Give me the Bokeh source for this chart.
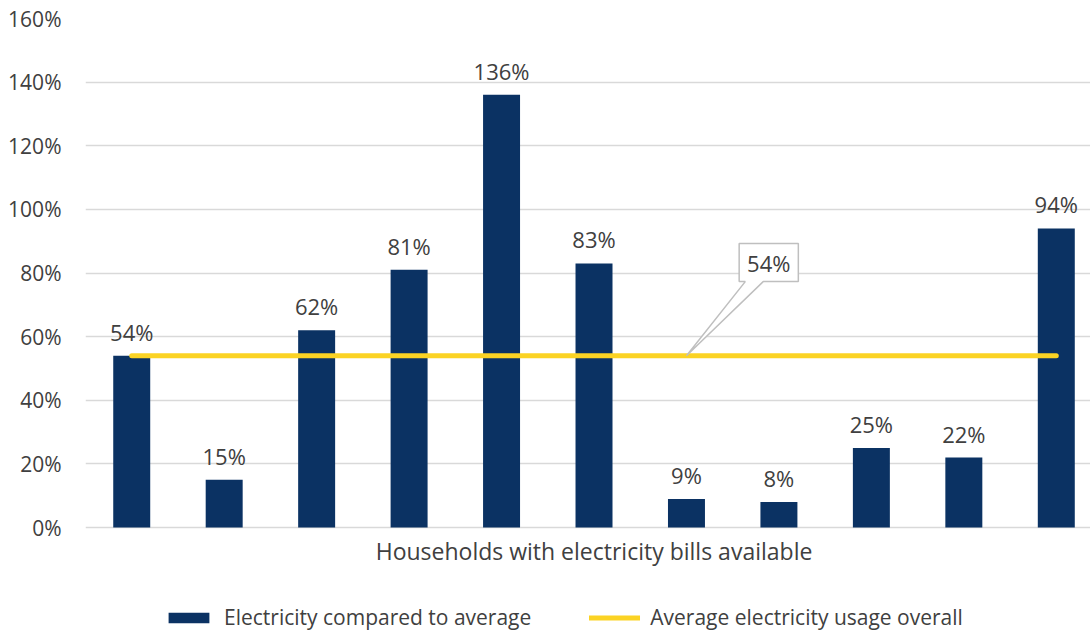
from bokeh.plotting import figure
from bokeh.models import (Range1d, ColumnDataSource, LabelSet, Label, Legend, LegendItem,
                          NumeralTickFormatter, FixedTicker)
from bokeh.core.properties import value
from bokeh.embed import file_html
from bokeh.resources import INLINE

# --- data -------------------------------------------------------------
households = list(range(11))
electricity_vs_average = [0.54, 0.15, 0.62, 0.81, 1.36, 0.83, 0.09, 0.08, 0.25, 0.22, 0.94]
average_usage_overall = 0.54
y_ticks = [0.0, 0.2, 0.4, 0.6, 0.8, 1.0, 1.2, 1.4, 1.6]
x_title = "Households with electricity bills available"
series_names = ["Electricity compared to average", "Average electricity usage overall"]

# --- style ------------------------------------------------------------
FONT = "Open Sans"
TEXT = "#404040"
NAVY = "#0b3263"
YELLOW = "#fbd324"
GRID = "#d9d9d9"
FS = "21px"

# the frame runs down to the bottom edge so the axis title and legend
# can live underneath the 0% line
p = figure(width=1090, height=632, output_backend="svg", toolbar_location=None,
           x_range=Range1d(-0.5, 10.37), y_range=Range1d(-0.33, 1.6),
           min_border_left=85, min_border_right=0, min_border_top=18, min_border_bottom=0)
p.outline_line_color = None
p.background_fill_color = "white"
p.border_fill_color = "white"
p.xaxis.visible = False

src = ColumnDataSource(dict(
    x=households,
    top=electricity_vs_average,
    label=[f"{round(v * 100)}%" for v in electricity_vs_average],
))

bars = p.vbar(x="x", top="top", width=0.4, source=src, fill_color=NAVY, line_color=None)
avg_line = p.line(x=[households[0], households[-1]], y=[average_usage_overall] * 2,
                  line_color=YELLOW, line_width=5, line_cap="round")

# value labels above the bars
p.add_layout(LabelSet(x="x", y="top", text="label", source=src, y_offset=15,
                      text_align="center", text_baseline="alphabetic",
                      text_font=value(FONT), text_font_size=value("22px"), text_color=TEXT))

# callout for the average line
at = households[6]
avg = average_usage_overall
bx0, bx1 = at + 0.57, at + 1.21
by0, by1 = avg + 0.233, avg + 0.353
tx0, tx1 = at + 0.636, at + 0.83
p.patch(x=[bx0, bx1, bx1, tx1, at, tx0, bx0],
        y=[by1, by1, by0, by0, avg, by0, by0],
        fill_color="white", line_color="#bfbfbf", line_width=1.5)
p.add_layout(Label(x=(bx0 + bx1) / 2, y=(by0 + by1) / 2, text=f"{round(avg * 100)}%",
                   text_align="center", text_baseline="middle",
                   text_font=FONT, text_font_size="22px", text_color=TEXT))

# category axis title, centred under the bars
p.add_layout(Label(x=(households[0] + households[-1]) / 2, y=0, y_offset=-7,
                   text=x_title, text_align="center", text_baseline="top",
                   text_font=FONT, text_font_size="23px", text_color=TEXT))

# value axis
p.yaxis.ticker = FixedTicker(ticks=y_ticks)
p.yaxis.formatter = NumeralTickFormatter(format="0%")
p.yaxis.axis_line_color = None
p.yaxis.major_tick_line_color = None
p.yaxis.minor_tick_line_color = None
p.yaxis.major_label_standoff = 18
p.yaxis.major_label_text_font = FONT
p.yaxis.major_label_text_font_size = FS
p.yaxis.major_label_text_color = TEXT

p.xgrid.visible = False
p.ygrid.grid_line_color = GRID
p.ygrid.grid_line_width = 1.5

legend = Legend(items=[LegendItem(label=series_names[0], renderers=[bars]),
                       LegendItem(label=series_names[1], renderers=[avg_line])],
                orientation="horizontal", location=(78, 1),
                glyph_width=51, glyph_height=13, label_standoff=10, spacing=58,
                padding=0, margin=0, border_line_color=None, background_fill_alpha=0,
                label_text_font=FONT, label_text_font_size=FS, label_text_color=TEXT)
p.add_layout(legend, "center")

open("out.html", "w").write(file_html(p, INLINE))
